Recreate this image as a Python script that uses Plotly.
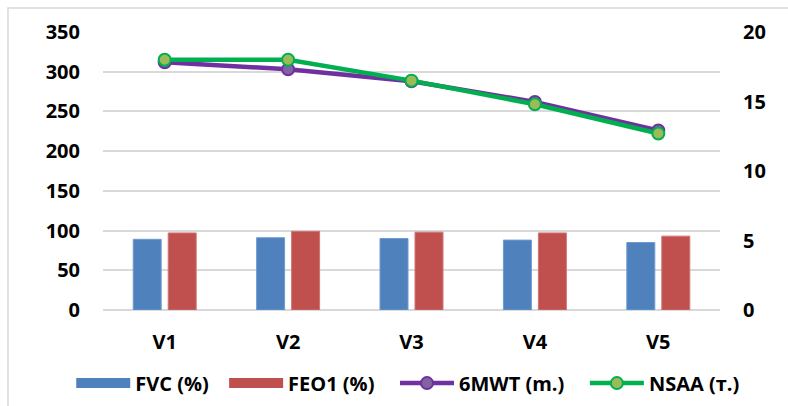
import plotly.graph_objects as go

categories = ["V1", "V2", "V3", "V4", "V5"]
fvc = [89, 91, 90, 88, 85]
feo1 = [97, 99, 98, 97, 93]
mwt6 = [312, 303, 288, 262, 226]
nsaa = [18, 18, 16.5, 14.8, 12.7]
series_names = ["FVC (%)", "FEO1 (%)", "6MWT (m.)", "NSAA (т.)"]

FONT = "Open Sans"
BLUE = "#4F81BD"
RED = "#C0504D"
NB = "\u00a0"
fig = go.Figure()
fig.add_trace(go.Bar(x=categories, y=fvc, name=series_names[0], showlegend=False,
                     marker=dict(color=BLUE, line=dict(color="#6F9BD1", width=1))))
fig.add_trace(go.Bar(x=categories, y=feo1, name=series_names[1], showlegend=False,
                     marker=dict(color=RED, line=dict(color="#D07472", width=1))))
# legend-only swatches for the bar series (wide Excel-style swatch)
fig.add_trace(go.Scatter(x=[None], y=[None], name=series_names[0] + NB * 2, mode="lines",
                         line=dict(color=BLUE, width=13)))
fig.add_trace(go.Scatter(x=[None], y=[None], name=series_names[1] + NB * 3, mode="lines",
                         line=dict(color=RED, width=13)))
fig.add_trace(go.Scatter(x=categories, y=mwt6, name=series_names[2] + NB * 3, mode="lines+markers",
                         line=dict(color="#7030A0", width=4.5),
                         marker=dict(size=12, color="#8064A2", line=dict(color="#7030A0", width=2))))
fig.add_trace(go.Scatter(x=categories, y=nsaa, name=series_names[3], mode="lines+markers", yaxis="y2",
                         line=dict(color="#00B050", width=4.5),
                         marker=dict(size=12, color="#9BBB59", line=dict(color="#00B050", width=2))))

fig.update_layout(
    width=788, height=406,
    margin=dict(l=103, r=68, t=32, b=96, autoexpand=False),
    paper_bgcolor="white", plot_bgcolor="white",
    font=dict(family=FONT, size=20, color="black", weight="bold"),
    barmode="group", bargap=0.433, bargroupgap=0.2,
    showlegend=True,
    legend=dict(orientation="h", xref="paper", yref="paper",
                x=-0.0515, xanchor="left", y=-0.263, yanchor="middle",
                font=dict(family=FONT, size=20, color="black", weight="bold"),
                itemwidth=54, tracegroupgap=0, traceorder="normal"),
    xaxis=dict(showgrid=False, showline=False, zeroline=False, ticklabelstandoff=18,
               tickfont=dict(family=FONT, size=20, weight="bold")),
    yaxis=dict(range=[0, 350], dtick=50, showgrid=True, gridcolor="#D9D9D9", gridwidth=1.5,
               zeroline=True, zerolinecolor="#D9D9D9", zerolinewidth=1.5, showline=False,
               ticklabelstandoff=22, tickfont=dict(family=FONT, size=20, weight="bold")),
    yaxis2=dict(range=[0, 20], dtick=5, overlaying="y", side="right", showgrid=False,
                zeroline=False, showline=False, ticklabelstandoff=22,
                tickfont=dict(family=FONT, size=20, weight="bold")),
    shapes=[dict(type="rect", xref="paper", yref="paper", x0=-0.154, x1=1.3, y0=-0.6, y1=1.0863,
                 line=dict(color="#D9D9D9", width=1.5), fillcolor="rgba(0,0,0,0)", layer="below")],
)

fig.write_html("out.html")
